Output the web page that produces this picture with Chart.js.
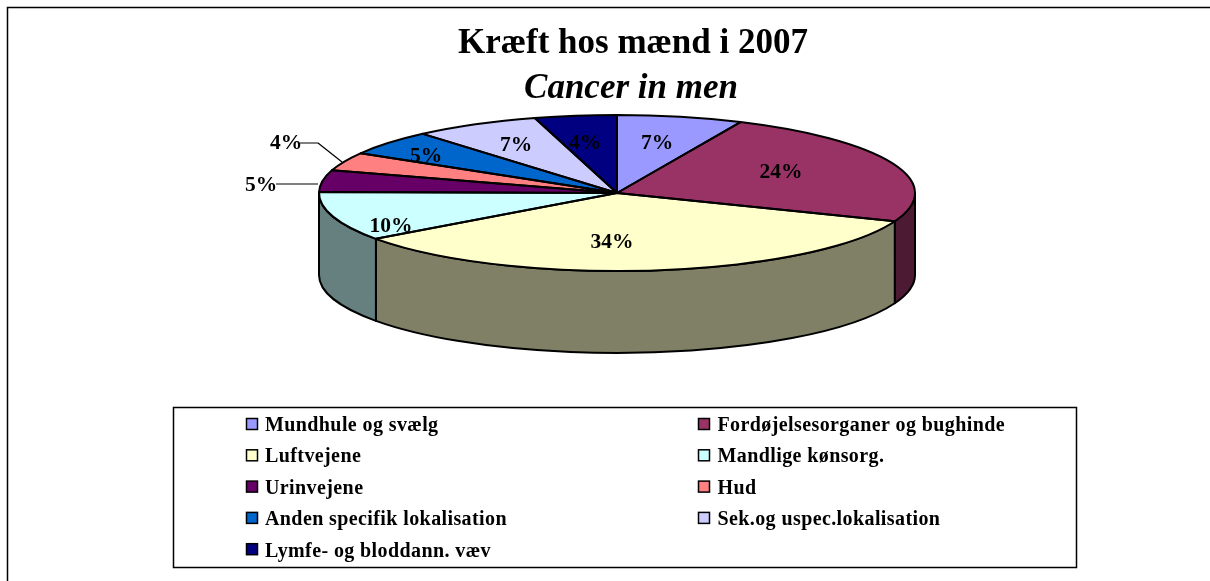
<!DOCTYPE html>
<html><head><meta charset="utf-8">
<script src="https://cdn.jsdelivr.net/npm/chart.js@4"></script>
<style>html,body{margin:0;padding:0;background:#fff}canvas{display:block}</style>
</head><body><canvas id="c" width="1210" height="581"></canvas>
<script>
const categories = ["Mundhule og svælg","Fordøjelsesorganer og bughinde","Luftvejene","Mandlige kønsorg.","Urinvejene","Hud","Anden specifik lokalisation","Sek.og uspec.lokalisation","Lymfe- og bloddann. væv"];
const shares = [6.8,24.1,34.1,10.2,4.5,3.8,5.2,6.85,4.45];
const sliceColors = ["#9999FF","#993366","#FFFFCC","#CCFFFF","#660066","#FF8080","#0066CC","#CCCCFF","#000080"];
const titleLine = "Kræft hos mænd i 2007";
const subtitleLine = "Cancer in men";

const SERIF = '"Liberation Serif","Times New Roman",serif';
const squash = 78/298, depth = 82;
const labelPos = [[40,-50],[164,-21],[-5,49],[-226,33],[-356,-8],[-331,-50],[-191,-37],[-101,-48],[-32,-50]];
const leaders = {4:[[-341,-9],[-299,-9]], 5:[[-317,-50],[-299,-50],[-275,-31]]};

function halve(hex){const n=parseInt(hex.slice(1),16);const h=v=>Math.round(v/2).toString(16).padStart(2,'0');
  return '#'+h(n>>16&255)+h(n>>8&255)+h(n&255);}

const pie3d = {
  id:'pie3d',
  afterLayout(chart){
    chart.boxes.forEach(b=>{
      const t=b.options&&b.options.text;
      if(t===titleLine){b.left+=16;b.right+=16;}
      if(t===subtitleLine){b.left+=14;b.right+=14;}
    });
  },
  beforeDatasetsDraw(chart){
    const ctx=chart.ctx, arcs=chart.getDatasetMeta(0).data, a0=arcs[0], cx=a0.x, cy=a0.y, R=a0.outerRadius, r2=R*squash;
    const lo=0, hi=Math.PI;
    ctx.save(); ctx.lineWidth=2; ctx.strokeStyle='#000'; ctx.lineJoin='round';
    arcs.forEach((a,i)=>{
      const s=Math.max(a.startAngle,lo), e=Math.min(a.endAngle,hi);
      if(e<=s) return;
      ctx.beginPath();
      ctx.ellipse(cx,cy,R,r2,0,s,e,false);
      ctx.ellipse(cx,cy+depth,R,r2,0,e,s,true);
      ctx.closePath();
      ctx.fillStyle=halve(sliceColors[i]); ctx.fill(); ctx.stroke();
    });
    ctx.restore();
    ctx.save(); ctx.translate(cx,cy); ctx.scale(1,squash); ctx.translate(-cx,-cy);
  },
  afterDatasetsDraw(chart){
    const ctx=chart.ctx; ctx.restore();
    const arcs=chart.getDatasetMeta(0).data, a0=arcs[0], cx=a0.x, cy=a0.y, R=a0.outerRadius, r2=R*squash;
    ctx.save(); ctx.lineWidth=2; ctx.strokeStyle='#000'; ctx.lineJoin='round';
    arcs.forEach(a=>{
      ctx.beginPath(); ctx.moveTo(cx,cy);
      ctx.ellipse(cx,cy,R,r2,0,a.startAngle,a.endAngle,false);
      ctx.closePath(); ctx.stroke();
    });
    ctx.lineWidth=1.2;
    Object.values(leaders).forEach(p=>{ctx.beginPath();p.forEach(([x,y],k)=>k?ctx.lineTo(cx+x,cy+y):ctx.moveTo(cx+x,cy+y));ctx.stroke();});
    const total=shares.reduce((s,v)=>s+v,0);
    ctx.fillStyle='#000'; ctx.font='bold 21.5px '+SERIF; ctx.textAlign='center'; ctx.textBaseline='middle';
    shares.forEach((v,i)=>ctx.fillText(Math.round(v/total*100)+'%',cx+labelPos[i][0],cy+labelPos[i][1]));
    ctx.restore();
  },
  afterDraw(chart){
    const ctx=chart.ctx;
    ctx.save();
    ctx.strokeStyle='#000'; ctx.lineWidth=1.5;
    ctx.beginPath(); ctx.moveTo(7.5,581); ctx.lineTo(7.5,7.5); ctx.lineTo(1210,7.5); ctx.stroke();
    ctx.strokeRect(173.5,407.5,903,160);
    ctx.font='bold 20px '+SERIF; ctx.textBaseline='middle'; ctx.textAlign='left';
    ctx.letterSpacing='0.4px';
    categories.forEach((t,i)=>{
      const col=i%2, row=(i-col)/2, x=col?698.5:246.5, y=424+row*31.3;
      ctx.fillStyle=sliceColors[i]; ctx.fillRect(x,y-5.5,11,11);
      ctx.lineWidth=1.5; ctx.strokeRect(x,y-5.5,11,11);
      ctx.fillStyle='#000'; ctx.fillText(t,x+(col?19:18.5),425.5+row*31.5);
    });
    ctx.restore();
  }
};

new Chart(document.getElementById('c'),{
  type:'pie',
  data:{labels:categories,datasets:[{data:shares,backgroundColor:sliceColors,borderWidth:0,radius:298,clip:false}]},
  options:{
    responsive:false,animation:false,
    layout:{padding:{top:0,left:24,right:0,bottom:305}},
    plugins:{
      legend:{display:false},tooltip:{enabled:false},
      title:{display:true,text:titleLine,color:'#000',font:{family:SERIF,size:35,weight:'bold'},padding:{top:23,bottom:0}},
      subtitle:{display:true,text:subtitleLine,color:'#000',font:{family:SERIF,size:35,weight:'bold',style:'italic'},padding:{top:3,bottom:0}}
    }
  },
  plugins:[pie3d]
});
</script></body></html>
